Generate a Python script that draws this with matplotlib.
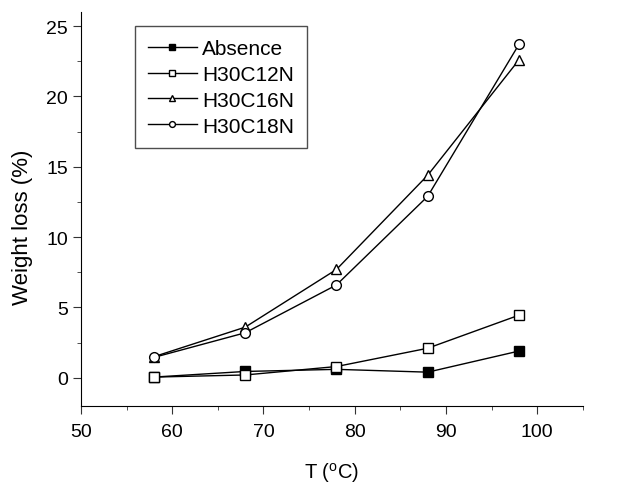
import numpy as np
import matplotlib
matplotlib.use("Agg")
import matplotlib.pyplot as plt
from matplotlib.ticker import MultipleLocator

plt.rcParams['font.family'] = ['Liberation Sans', 'DejaVu Sans']

T = [58, 68, 78, 88, 98]
absence = [0.05, 0.45, 0.6, 0.4, 1.9]
h30c12n = [0.05, 0.2, 0.8, 2.1, 4.45]
h30c16n = [1.5, 3.6, 7.7, 14.4, 22.6]
h30c18n = [1.45, 3.2, 6.6, 12.9, 23.7]

fig = plt.figure(figsize=(6.2, 4.85), dpi=100)
ax = fig.add_axes([0.1306, 0.161, 0.8094, 0.812])

ax.plot(T, absence, color='black', lw=1, marker='s', ms=6.5, mfc='black', label="Absence")
ax.plot(T, h30c12n, color='black', lw=1, marker='s', ms=6.5, mfc='white', label="H30C12N")
ax.plot(T, h30c16n, color='black', lw=1, marker='^', ms=7.5, mfc='white', label="H30C16N")
ax.plot(T, h30c18n, color='black', lw=1, marker='o', ms=7, mfc='white', label="H30C18N")

ax.set_xlim(50, 105)
ax.set_ylim(-2, 26)
ax.xaxis.set_major_locator(MultipleLocator(10))
ax.xaxis.set_minor_locator(MultipleLocator(5))
ax.yaxis.set_major_locator(MultipleLocator(5))
ax.yaxis.set_minor_locator(MultipleLocator(2.5))
ax.tick_params(which='both', direction='out', labelsize=14, color='#333333', pad=4)
ax.tick_params(which='major', length=5.5)
ax.tick_params(which='minor', length=3)
ax.tick_params(axis='x', pad=7)
for s in ['top', 'right']:
    ax.spines[s].set_visible(False)

ax.set_xlabel("T ($\\mathregular{^o}$C)", fontsize=14.5, labelpad=14)
ax.set_ylabel("Weight loss (%)", fontsize=16)
ax.yaxis.set_label_coords(-0.096, 0.455)

leg = ax.legend(loc='upper left', bbox_to_anchor=(135 / 620, 1 - 27 / 485),
                bbox_transform=fig.transFigure, borderaxespad=0, fontsize=15,
                frameon=True, fancybox=False, edgecolor='#222222', handlelength=2.35,
                handletextpad=0.25, markerscale=0.6,
                labelspacing=0.33, borderpad=0.62)
leg.get_frame().set_linewidth(1)

fig.savefig("out.png", dpi=100)
